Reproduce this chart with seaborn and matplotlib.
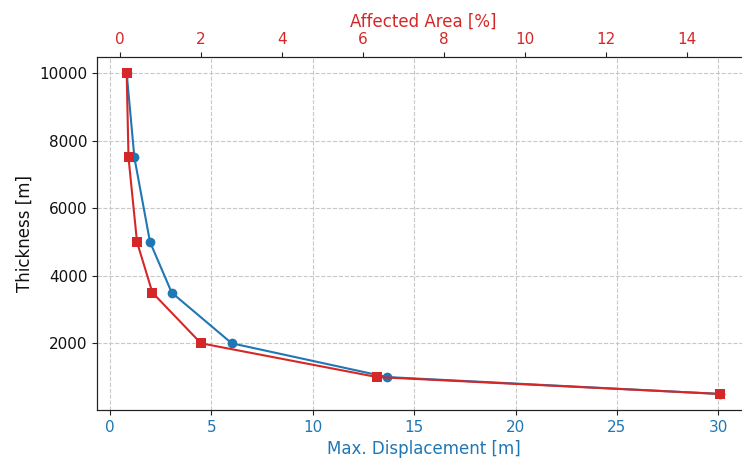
import matplotlib
matplotlib.use("Agg")
import matplotlib.pyplot as plt
import seaborn as sns
import pandas as pd

# Crust thickness scenarios and the resulting response
thickness = [10000, 7500, 5000, 3500, 2000, 1000, 500]
max_displacement = [0.82, 1.2, 1.97, 3.04, 6.0, 13.66, 30.1]
affected_area = [0.165, 0.21, 0.42, 0.80, 2.0, 6.35, 14.83]

blue = "#1f77b4"
red = "#d62728"

sns.set_style("ticks", {
    "axes.grid": True,
    "grid.linestyle": "--",
    "grid.color": "#c8c8c8",
    "axes.edgecolor": "#222222",
    "xtick.color": "#222222",
    "ytick.color": "#222222",
    "text.color": "#111111",
    "axes.labelcolor": "#111111",
})
plt.rcParams["font.family"] = ["DejaVu Sans"]

df = pd.DataFrame({
    "thickness": thickness,
    "disp": max_displacement,
    "area": affected_area,
})

fig = plt.figure(figsize=(7.42, 4.59), dpi=100)
ax = fig.add_axes([97 / 742, 1 - 410 / 459, 653 / 742, (410 - 57) / 459])

sns.lineplot(data=df, x="disp", y="thickness", ax=ax, color=blue,
             marker="o", markersize=7, markeredgewidth=0, linewidth=1.5,
             sort=False, estimator=None)
ax.set_xlabel("Max. Displacement [m]", color=blue, fontsize=12)
ax.set_ylabel("Thickness [m]", fontsize=12, color="#111111")
ax.tick_params(axis="x", labelcolor=blue, labelsize=11)
ax.tick_params(axis="y", labelsize=11, labelcolor="#111111")
ax.set_xticks([0, 5, 10, 15, 20, 25, 30])
ax.set_yticks([2000, 4000, 6000, 8000, 10000])
ax.grid(True, linestyle="--", color="#c8c8c8", linewidth=0.8)

ax2 = ax.twiny()
sns.lineplot(data=df, x="area", y="thickness", ax=ax2, color=red,
             marker="s", markersize=7, markeredgewidth=0, linewidth=1.5,
             sort=False, estimator=None)
ax2.set_xlabel("Affected Area [%]", color=red, fontsize=12)
ax2.tick_params(axis="x", labelcolor=red, labelsize=11)
ax2.set_xticks([0, 2, 4, 6, 8, 10, 12, 14])
ax2.grid(False)
ax2.set_ylabel("")

fig.savefig("out.png", dpi=100)
